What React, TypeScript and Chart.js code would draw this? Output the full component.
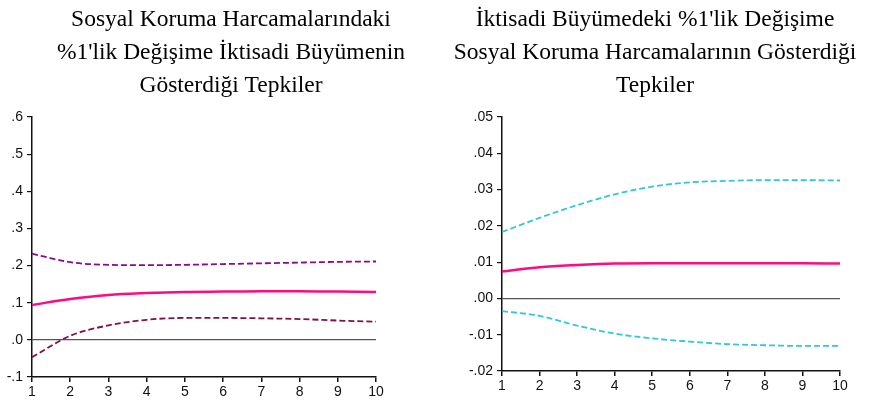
import React, { useEffect, useRef } from "react";
import { Chart, registerables } from "chart.js";

Chart.register(...registerables);

// ---- Data ----
const periods = ["1", "2", "3", "4", "5", "6", "7", "8", "9", "10"];

const leftTitle = [
  "Sosyal Koruma Harcamalarındaki",
  "%1'lik Değişime İktisadi Büyümenin",
  "Gösterdiği Tepkiler",
];
const leftUpper = [0.232, 0.209, 0.202, 0.201, 0.202, 0.204, 0.206, 0.208, 0.21, 0.211];
const leftResponse = [0.094, 0.11, 0.121, 0.126, 0.129, 0.13, 0.131, 0.131, 0.13, 0.129];
const leftLower = [-0.047, 0.011, 0.039, 0.054, 0.059, 0.059, 0.058, 0.056, 0.052, 0.049];
const leftYTicks = [-0.1, 0, 0.1, 0.2, 0.3, 0.4, 0.5, 0.6];
const leftYTickLabels = ["-.1", ".0", ".1", ".2", ".3", ".4", ".5", ".6"];

const rightTitle = [
  "İktisadi Büyümedeki %1'lik Değişime",
  "Sosyal Koruma Harcamalarının Gösterdiği",
  "Tepkiler",
];
const rightUpper = [0.0183, 0.0222, 0.0257, 0.0287, 0.0308, 0.032, 0.0324, 0.0326, 0.0326, 0.0325];
const rightResponse = [0.0074, 0.0086, 0.0092, 0.0096, 0.0097, 0.0097, 0.0097, 0.0097, 0.0097, 0.0096];
const rightLower = [-0.0035, -0.0048, -0.0075, -0.0097, -0.011, -0.0119, -0.0126, -0.0129, -0.0131, -0.0131];
const rightYTicks = [-0.02, -0.01, 0, 0.01, 0.02, 0.03, 0.04, 0.05];
const rightYTickLabels = ["-.02", "-.01", ".00", ".01", ".02", ".03", ".04", ".05"];

// ---- Styles ----
const TICK_FONT = { family: "'Liberation Sans', Arial, sans-serif", size: 14 };
const TITLE_FONT = { family: "'Liberation Serif', 'Times New Roman', serif", size: 23.5, weight: "normal" as const, lineHeight: 1.404 };
const RESPONSE_COLOR = "#FF0A80";

type PanelProps = {
  left: number;
  width: number;
  title: string[];
  upper: number[];
  response: number[];
  lower: number[];
  upperColor: string;
  lowerColor: string;
  yTicks: number[];
  yTickLabels: string[];
  yAxisWidth: number;
  rightPad: number;
  xAxisHeight: number;
};

function Panel(p: PanelProps) {
  const ref = useRef<HTMLCanvasElement | null>(null);
  useEffect(() => {
    if (!ref.current) return;
    const chart = new Chart(ref.current, {
      type: "line",
      data: {
        labels: periods,
        datasets: [
          {
            data: p.upper,
            borderColor: p.upperColor,
            borderWidth: 1.8,
            borderDash: [6, 3],
            pointRadius: 0,
            cubicInterpolationMode: "monotone",
            fill: false,
          },
          {
            data: p.response,
            borderColor: RESPONSE_COLOR,
            borderWidth: 2.5,
            pointRadius: 0,
            cubicInterpolationMode: "monotone",
            fill: false,
          },
          {
            data: p.lower,
            borderColor: p.lowerColor,
            borderWidth: 1.8,
            borderDash: [6, 3],
            pointRadius: 0,
            cubicInterpolationMode: "monotone",
            fill: false,
          },
        ],
      },
      options: {
        responsive: false,
        animation: false,
        devicePixelRatio: 1,
        layout: { padding: 0 },
        plugins: {
          legend: { display: false },
          tooltip: { enabled: false },
          title: {
            display: true,
            text: p.title,
            color: "#000",
            font: TITLE_FONT,
            padding: { top: 3, bottom: 15 },
          },
        },
        scales: {
          x: {
            type: "category",
            offset: false,
            grid: { display: true, drawOnChartArea: false, drawTicks: true, tickLength: 5, tickColor: "#111", lineWidth: 1.5 },
            border: { display: true, color: "#111", width: 1.5 },
            ticks: { color: "#111", font: TICK_FONT, padding: 2, autoSkip: false, maxRotation: 0 },
            afterFit: (s: any) => {
              s.height = p.xAxisHeight;
            },
          },
          y: {
            type: "linear",
            position: "left",
            min: p.yTicks[0],
            max: p.yTicks[p.yTicks.length - 1],
            afterBuildTicks: (s: any) => {
              s.ticks = p.yTicks.map((v) => ({ value: v }));
            },
            grid: {
              display: true,
              drawOnChartArea: true,
              drawTicks: true,
              tickLength: 5,
              tickColor: "#111",
              color: (ctx: any) => (ctx.tick && Math.abs(ctx.tick.value) < 1e-9 ? "#555" : "rgba(0,0,0,0)"),
              lineWidth: 1.2,
            },
            border: { display: true, color: "#111", width: 1.5 },
            ticks: {
              color: "#111",
              font: TICK_FONT,
              padding: 4,
              autoSkip: false,
              callback: (_v: any, i: number) => p.yTickLabels[i],
            },
            afterFit: (s: any) => {
              s.width = p.yAxisWidth;
            },
          },
          pad: {
            type: "linear",
            position: "right",
            display: true,
            grid: { display: false, drawTicks: false },
            border: { display: false },
            ticks: { display: false },
            afterFit: (s: any) => {
              s.width = p.rightPad;
            },
          },
        },
      } as any,
    });
    return () => chart.destroy();
  }, []);
  return (
    <canvas
      ref={ref}
      width={p.width}
      height={400}
      style={{ position: "absolute", left: p.left, top: 0, width: p.width, height: 400 }}
    />
  );
}

export default function App() {
  return (
    <div style={{ position: "absolute", left: 0, top: 0, width: 884, height: 400, background: "#fff", overflow: "hidden" }}>
      <Panel
        left={0}
        width={462}
        title={leftTitle}
        upper={leftUpper}
        response={leftResponse}
        lower={leftLower}
        upperColor="#8A0A8A"
        lowerColor="#80104A"
        yTicks={leftYTicks}
        yTickLabels={leftYTickLabels}
        yAxisWidth={32}
        rightPad={86}
        xAxisHeight={23}
      />
      <Panel
        left={442}
        width={426}
        title={rightTitle}
        upper={rightUpper}
        response={rightResponse}
        lower={rightLower}
        upperColor="#30C8D8"
        lowerColor="#30C8D8"
        yTicks={rightYTicks}
        yTickLabels={rightYTickLabels}
        yAxisWidth={60}
        rightPad={28}
        xAxisHeight={29}
      />
    </div>
  );
}
